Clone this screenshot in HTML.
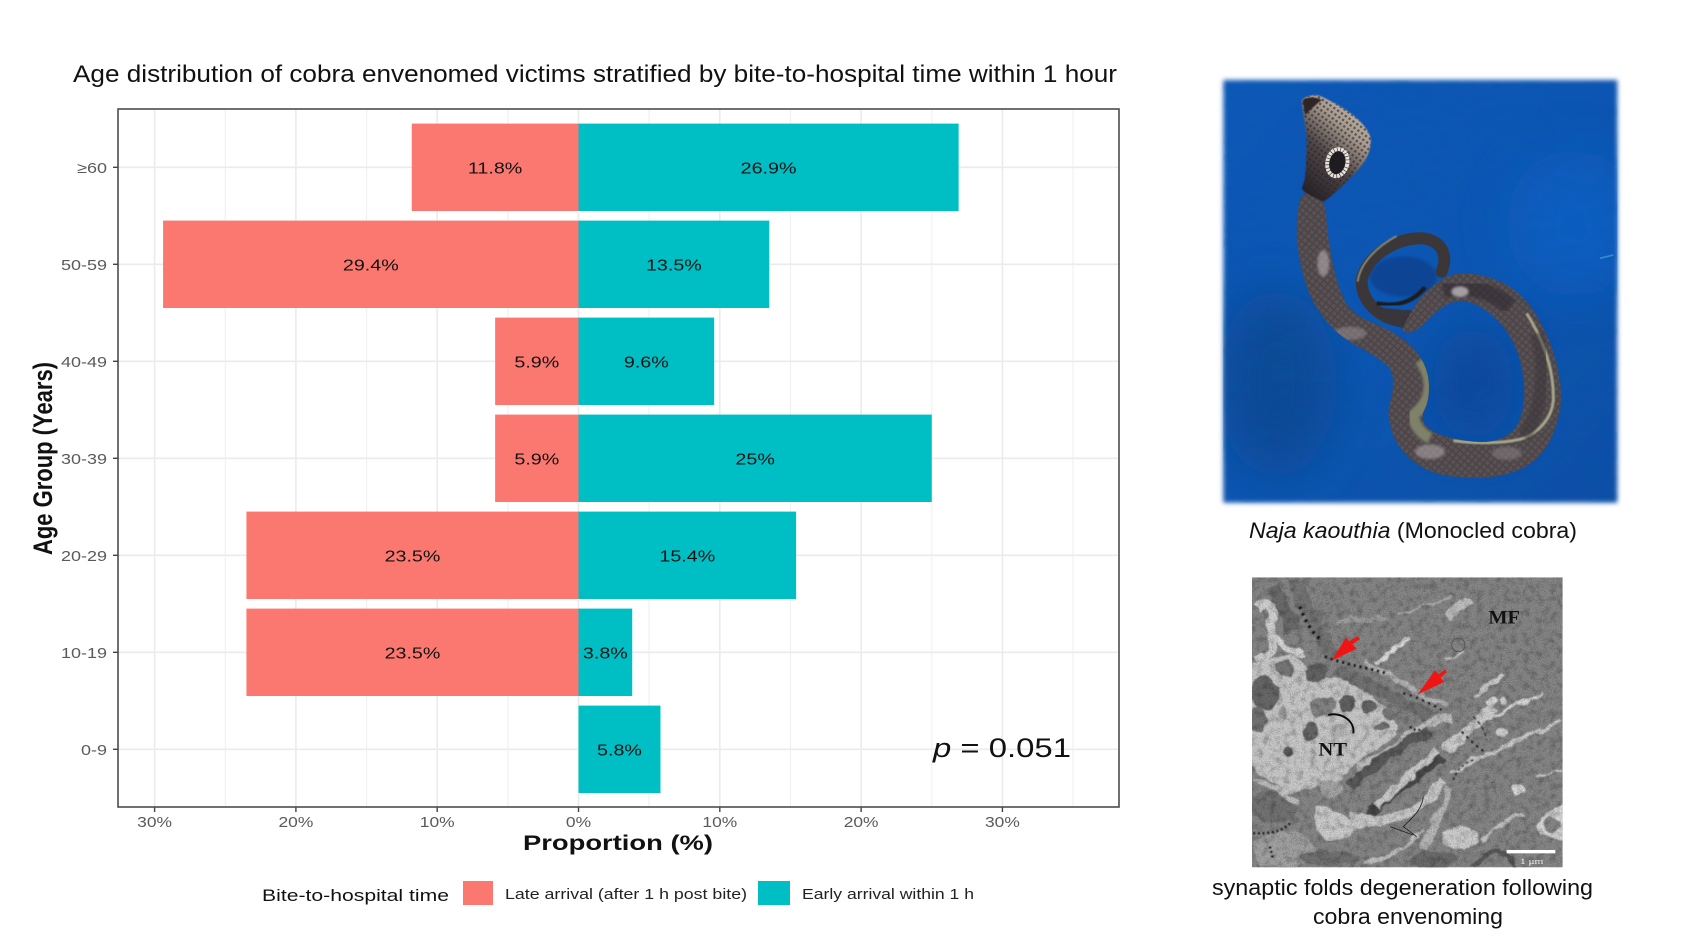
<!DOCTYPE html>
<html lang="en">
<head>
<meta charset="utf-8">
<title>Age distribution of cobra envenomed victims</title>
<style>
html,body{margin:0;padding:0;background:#fff;}
svg{display:block;font-family:"Liberation Sans",sans-serif;}
</style>
</head>
<body>
<svg id="fig" xmlns="http://www.w3.org/2000/svg" width="1701" height="945" viewBox="0 0 1701 945">
<defs>
  <filter id="edgeBlur" x="-5%" y="-5%" width="110%" height="110%"><feGaussianBlur stdDeviation="7"/></filter>
  <filter id="soft1" x="-5%" y="-5%" width="110%" height="110%"><feGaussianBlur stdDeviation="1.6"/></filter>
  <filter id="soft" x="-20%" y="-20%" width="140%" height="140%"><feGaussianBlur stdDeviation="4"/></filter>
  <filter id="bigSoft" x="-60%" y="-60%" width="220%" height="220%"><feGaussianBlur stdDeviation="70"/></filter>
  <filter id="warp" x="-5%" y="-5%" width="110%" height="110%">
    <feTurbulence type="fractalNoise" baseFrequency="0.022" numOctaves="3" seed="3" result="n"/>
    <feDisplacementMap in="SourceGraphic" in2="n" scale="30" xChannelSelector="R" yChannelSelector="G"/>
    <feGaussianBlur stdDeviation="1.8"/>
  </filter>
  <filter id="grain" x="0" y="0" width="100%" height="100%">
    <feTurbulence type="fractalNoise" baseFrequency="0.3" numOctaves="2" seed="5"/>
    <feColorMatrix type="matrix" values="0 0 0 0 0  0 0 0 0 0  0 0 0 0 0  1.8 0 0 0 -0.62"/>
  </filter>
  <filter id="mottle" x="0" y="0" width="100%" height="100%">
    <feTurbulence type="fractalNoise" baseFrequency="0.05" numOctaves="3" seed="9"/>
    <feColorMatrix type="matrix" values="0 0 0 0 0  0 0 0 0 0  0 0 0 0 0  2.4 0 0 0 -1.05"/>
  </filter>
  <filter id="blueGrain" x="0" y="0" width="100%" height="100%">
    <feTurbulence type="fractalNoise" baseFrequency="0.012 0.03" numOctaves="3" seed="7"/>
    <feColorMatrix type="matrix" values="0 0 0 0 0  0 0 0 0 0.12  0 0 0 0 0.4  2 0 0 0 -0.9"/>
  </filter>
  <linearGradient id="blueBg" x1="0" y1="0" x2="1" y2="1">
    <stop offset="0" stop-color="#0b58b6"/>
    <stop offset="0.5" stop-color="#0a55b2"/>
    <stop offset="1" stop-color="#0b4fa6"/>
  </linearGradient>
  <linearGradient id="hoodFill" x1="0.15" y1="1" x2="0.75" y2="0">
    <stop offset="0" stop-color="#231f24"/>
    <stop offset="0.42" stop-color="#4f4648"/>
    <stop offset="0.72" stop-color="#a79a8e"/>
    <stop offset="1" stop-color="#c4b9ac"/>
  </linearGradient>
  <pattern id="scales" patternUnits="userSpaceOnUse" width="16" height="16" patternTransform="rotate(40)">
    <rect width="16" height="16" fill="#4a4346"/>
    <rect x="2" y="2" width="11" height="11" fill="#625a5c"/>
  </pattern>
  <pattern id="hoodScales" patternUnits="userSpaceOnUse" width="14" height="14" patternTransform="rotate(35)">
    <rect width="14" height="14" fill="#000" opacity="0"/>
    <rect x="3" y="3" width="7" height="7" fill="#2a2426"/>
  </pattern>
  <clipPath id="photoClip"><rect x="100" y="90" width="1182" height="1268"/></clipPath>
  <clipPath id="emClip"><rect x="186" y="82" width="932" height="870"/></clipPath>
  <clipPath id="bodyClip"><path id="bodyClipPath" d=""/></clipPath>
</defs>

<rect width="1701" height="945" fill="#fff"/>

<text x="73" y="82" font-size="24" fill="#111" textLength="1044" lengthAdjust="spacingAndGlyphs">Age distribution of cobra envenomed victims stratified by bite-to-hospital time within 1 hour</text>

<g id="chart"></g>

<text transform="translate(52,555) rotate(-90) scale(1,1.22)" font-size="22" font-weight="bold" fill="#111" textLength="193" lengthAdjust="spacingAndGlyphs">Age Group (Years)</text>
<text x="523" y="850" font-size="21" font-weight="bold" fill="#111" textLength="190" lengthAdjust="spacingAndGlyphs">Proportion (%)</text>
<text x="933" y="757" font-size="27" fill="#111" textLength="138" lengthAdjust="spacingAndGlyphs"><tspan font-style="italic">p</tspan> = 0.051</text>

<g>
  <text x="262" y="901" font-size="17" fill="#111" textLength="187" lengthAdjust="spacingAndGlyphs">Bite-to-hospital time</text>
  <rect x="463" y="881" width="30" height="24" fill="#FA786F"/>
  <text x="505" y="899" font-size="15" fill="#222" textLength="242" lengthAdjust="spacingAndGlyphs">Late arrival (after 1 h post bite)</text>
  <rect x="758" y="881" width="32" height="24" fill="#00BFC4"/>
  <text x="802" y="899" font-size="15" fill="#222" textLength="172" lengthAdjust="spacingAndGlyphs">Early arrival within 1 h</text>
</g>

<!-- cobra photo illustration -->
<g transform="translate(1190,50) scale(0.33333)">
  <rect x="100" y="90" width="1182" height="1268" fill="url(#blueBg)" filter="url(#edgeBlur)"/>
  <g clip-path="url(#photoClip)">
    <ellipse cx="260" cy="1000" rx="180" ry="280" fill="#0a478f" opacity=".8" filter="url(#bigSoft)"/>
    <ellipse cx="1150" cy="520" rx="200" ry="220" fill="#0b60c4" opacity=".8" filter="url(#bigSoft)"/>
    <ellipse cx="850" cy="1000" rx="120" ry="170" fill="#0a4596" opacity=".8" filter="url(#bigSoft)"/>
    <rect x="100" y="90" width="1182" height="1268" filter="url(#blueGrain)" opacity=".25"/>
    <path d="M1230,625 L1270,615" stroke="#4da0e0" stroke-width="5" opacity=".7"/>
    <ellipse cx="640" cy="680" rx="100" ry="60" fill="#0a4494" filter="url(#soft)"/>
    <!-- back loop -->
    <path id="loopPath" d="M650,815 C560,810 512,745 515,690 C530,620 610,570 680,565 C750,562 778,610 755,665" fill="none" stroke="#3b3739" stroke-width="36" stroke-linecap="round"/>
    <path d="M560,760 C620,772 670,755 705,712" fill="none" stroke="#1c1a1d" stroke-width="13" filter="url(#soft1)"/>
    <path d="M503,695 C510,640 560,590 620,558" fill="none" stroke="#858770" stroke-width="6" filter="url(#soft1)"/>
    <path d="M540,770 C590,815 640,850 680,830 L720,780 L640,780 Z" fill="#39343a" filter="url(#soft1)"/>
    <!-- body as filled outline -->
    <path id="bodyFill" d="" fill="#4f474a" filter="url(#soft1)"/>
    <g clip-path="url(#bodyClip)">
      <rect x="300" y="400" width="850" height="920" fill="url(#scales)" opacity=".55"/>
      <path d="M690,930 C730,985 730,1050 670,1095 C670,1120 690,1150 720,1165" fill="none" stroke="#7f8168" stroke-width="34" filter="url(#soft)"/>
      <path d="M1010,790 C1060,870 1092,960 1090,1050 C1085,1110 1040,1150 1000,1165 C950,1180 860,1182 790,1172" fill="none" stroke="#a3a488" stroke-width="9" filter="url(#soft1)"/>
      <path d="M1040,850 C1070,950 1060,1080 1000,1160" fill="none" stroke="#38343a" stroke-width="40" opacity=".5" filter="url(#soft)"/>
      <path d="M760,720 C830,700 900,720 960,770" fill="none" stroke="#2e2a30" stroke-width="50" opacity=".6" filter="url(#soft)"/>
      <ellipse cx="400" cy="640" rx="18" ry="40" fill="#c9c2c4" opacity=".5" filter="url(#soft)"/>
      <ellipse cx="810" cy="725" rx="26" ry="16" fill="#d2cccf" opacity=".7" filter="url(#soft)"/>
      <ellipse cx="720" cy="1205" rx="45" ry="22" fill="#b2acad" opacity=".55" filter="url(#soft)"/>
      <ellipse cx="480" cy="850" rx="50" ry="20" fill="#9b9496" opacity=".5" filter="url(#soft)"/>
      <ellipse cx="950" cy="1210" rx="45" ry="20" fill="#8b8587" opacity=".5" filter="url(#soft)"/>
    </g>
    <!-- hood -->
    <path d="M335,150 C350,135 380,130 400,142 C460,170 530,215 542,265 C545,310 520,345 490,375 C460,405 425,440 400,455 C370,440 345,430 335,415 C350,390 348,330 350,290 C352,250 338,190 335,150 Z" fill="url(#hoodFill)" filter="url(#soft1)"/>
    <path d="M335,150 C350,135 380,130 400,142 C460,170 530,215 542,265 C545,310 520,345 490,375 C460,405 425,440 400,455 C370,440 345,430 335,415 C350,390 348,330 350,290 C352,250 338,190 335,150 Z" fill="url(#hoodScales)" opacity=".6"/>
    <path d="M338,150 C355,140 375,140 395,150 C375,165 355,185 345,195 Z" fill="#2d2627" filter="url(#soft1)"/>
    <ellipse cx="442" cy="338" rx="30" ry="41" transform="rotate(12 442 338)" fill="#1f1c21" stroke="#e6e0d6" stroke-width="12" stroke-dasharray="8 2"/>
  </g>
</g>
<text x="1249" y="538" font-size="22" fill="#111" textLength="328" lengthAdjust="spacingAndGlyphs"><tspan font-style="italic">Naja kaouthia</tspan> (Monocled cobra)</text>

<!-- electron micrograph illustration -->
<g transform="translate(1190,550) scale(0.33333)">
  <g clip-path="url(#emClip)">
    <rect x="186" y="82" width="932" height="870" fill="#8b8b8b"/>
    <g filter="url(#warp)">
      <!-- pale terminal NT -->
      <path d="M175,345 C250,335 285,290 340,335 C395,395 440,380 475,400 C530,425 600,480 625,520 C625,560 560,600 500,640 C470,652 450,700 430,725 C380,680 340,745 280,725 C250,690 200,690 175,620 Z" fill="#cfcfcf"/>
      <path d="M205,175 C240,150 255,175 240,225 C260,285 250,310 200,335" fill="none" stroke="#d8d8d8" stroke-width="26"/>
      <path d="M255,255 C285,295 300,310 345,312" stroke="#e0e0e0" stroke-width="20" fill="none"/>
      <path d="M250,110 C265,150 290,190 310,240" stroke="#707070" stroke-width="44" fill="none"/>
      <path d="M320,90 C340,180 390,250 430,320" stroke="#7a7a7a" stroke-width="44" fill="none"/>
      <!-- dark organelles -->
      <ellipse cx="225" cy="430" rx="42" ry="50" fill="#6c6c6c"/>
      <ellipse cx="205" cy="510" rx="24" ry="36" fill="#777"/>
      <circle cx="285" cy="355" r="24" fill="#7c7c7c"/>
      <circle cx="380" cy="372" r="34" fill="#676767"/>
      <circle cx="470" cy="460" r="26" fill="#666"/>
      <ellipse cx="538" cy="470" rx="24" ry="19" fill="#6c6c6c"/>
      <ellipse cx="600" cy="495" rx="22" ry="13" fill="#7c7c7c"/>
      <ellipse cx="575" cy="530" rx="28" ry="13" fill="#777"/>
      <circle cx="295" cy="605" r="17" fill="#5f5f5f"/>
      <ellipse cx="280" cy="490" rx="15" ry="22" fill="#a4a4a4"/>
      <ellipse cx="395" cy="470" rx="38" ry="32" fill="#8a8a8a"/>
      <ellipse cx="360" cy="545" rx="28" ry="26" fill="#6c6c6c"/>
      <ellipse cx="450" cy="540" rx="24" ry="18" fill="#bbb"/>
      <!-- fold zone -->
      <path d="M440,360 C530,410 620,440 720,500" fill="none" stroke="#777" stroke-width="36"/>
      <path d="M520,335 C600,360 650,420 770,470" fill="none" stroke="#bcbcbc" stroke-width="16"/>
      <!-- clefts -->
      <path d="M500,650 C560,640 600,600 650,560 C700,520 740,500 790,505" fill="none" stroke="#c6c6c6" stroke-width="22"/>
      <path d="M480,710 C540,640 640,590 720,540" fill="none" stroke="#5e5e5e" stroke-width="30"/>
      <path d="M540,800 C580,730 680,680 760,620" fill="none" stroke="#4e4e4e" stroke-width="32"/>
      <path d="M560,770 C620,700 700,650 745,600" fill="none" stroke="#d2d2d2" stroke-width="24"/>
      <path d="M480,800 C600,830 680,800 760,690" fill="none" stroke="#d2d2d2" stroke-width="30"/>
      <path d="M780,665 C900,610 1000,570 1110,510" fill="none" stroke="#d2d2d2" stroke-width="12"/>
      <path d="M770,600 C830,540 870,520 910,470" fill="none" stroke="#d4d4d4" stroke-width="32"/>
      <path d="M890,510 C950,480 1010,450 1060,425" fill="none" stroke="#e0e0e0" stroke-width="11"/>
      <path d="M850,440 C880,420 910,395 940,375" fill="none" stroke="#d6d6d6" stroke-width="13"/>
      <path d="M560,335 C590,320 625,290 650,265" fill="none" stroke="#e6e6e6" stroke-width="13"/>
      <path d="M630,190 C680,170 720,170 780,140" fill="none" stroke="#b8b8b8" stroke-width="7"/>
      <path d="M775,195 C800,170 830,160 845,150" fill="none" stroke="#c8c8c8" stroke-width="24"/>
      <path d="M770,330 C790,320 810,310 825,300" fill="none" stroke="#c4c4c4" stroke-width="12"/>
      <path d="M380,770 C370,850 400,900 470,860 C520,825 590,830 640,790 C600,780 520,820 480,810 C440,780 410,760 380,770 Z" fill="#d4d4d4"/>
      <ellipse cx="810" cy="860" rx="55" ry="36" fill="#d4d4d4"/>
      <path d="M700,900 C740,820 760,760 780,710" fill="none" stroke="#bebebe" stroke-width="24"/>
      <path d="M520,945 C600,930 660,880 700,840" fill="none" stroke="#c8c8c8" stroke-width="12"/>
      <path d="M1040,830 C1060,790 1090,780 1125,760 L1125,870 C1080,870 1050,860 1040,830 Z" fill="#dedede"/>
      <ellipse cx="1085" cy="825" rx="20" ry="22" fill="#8c8c8c"/>
      <ellipse cx="985" cy="720" rx="20" ry="12" fill="#e4e4e4"/>
      <path d="M870,870 C930,820 960,810 1000,790" fill="none" stroke="#cccccc" stroke-width="11"/>
      <path d="M850,945 C900,880 950,900 980,950" fill="none" stroke="#5c5c5c" stroke-width="14"/>
      <ellipse cx="905" cy="455" rx="18" ry="14" fill="#e0e0e0"/>
      <ellipse cx="940" cy="450" rx="10" ry="14" fill="#d8d8d8"/>
      <ellipse cx="938" cy="545" rx="16" ry="14" fill="#d8d8d8"/>
      <path d="M1040,680 C1070,670 1090,665 1118,655" fill="none" stroke="#d0d0d0" stroke-width="6"/>
      <path d="M440,215 C500,200 560,215 590,200" fill="none" stroke="#a6a6a6" stroke-width="12"/>
      <!-- lower-left mottling -->
      <ellipse cx="250" cy="770" rx="70" ry="50" fill="#787878"/>
      <ellipse cx="280" cy="900" rx="90" ry="55" fill="#a8a8a8"/>
      <ellipse cx="420" cy="925" rx="90" ry="22" fill="#767676"/>
      <ellipse cx="730" cy="930" rx="70" ry="26" fill="#707070"/>
      <ellipse cx="420" cy="715" rx="40" ry="24" fill="#aaaaaa"/>
      <path d="M190,690 C230,700 280,730 330,760" fill="none" stroke="#c4c4c4" stroke-width="14"/>
    </g>
    <!-- texture -->
    <rect x="186" y="82" width="932" height="870" filter="url(#mottle)" opacity=".22"/>
    <rect x="186" y="82" width="932" height="870" filter="url(#grain)" opacity=".25"/>
    <!-- junctional folds specks -->
    <g filter="url(#soft1)">
      <path d="M330,170 C345,210 365,250 395,270" fill="none" stroke="#111" stroke-width="10" stroke-dasharray="7 14"/>
      <path d="M405,320 C470,345 520,350 590,370" fill="none" stroke="#111" stroke-width="8" stroke-dasharray="6 12"/>
      <path d="M640,430 C680,440 720,460 755,480" fill="none" stroke="#111" stroke-width="6" stroke-dasharray="6 14"/>
      <path d="M660,530 C670,540 680,540 690,540" fill="none" stroke="#111" stroke-width="7" stroke-dasharray="5 9"/>
      <path d="M815,545 C840,570 860,590 890,610" fill="none" stroke="#111" stroke-width="5" stroke-dasharray="8 12"/>
      <path d="M850,500 C870,520 885,540 890,570" fill="none" stroke="#222" stroke-width="4" stroke-dasharray="10 10"/>
      <path d="M790,690 C800,660 820,640 850,630" fill="none" stroke="#222" stroke-width="4" stroke-dasharray="8 8"/>
      <path d="M190,850 C230,850 270,850 300,820 M240,890 L250,930" fill="none" stroke="#111" stroke-width="7" stroke-dasharray="5 9"/>
    </g>
    <path d="M415,495 C450,485 495,510 490,550" fill="none" stroke="#0c0c0c" stroke-width="6"/>
    <path d="M700,740 C695,780 670,800 640,830 L680,860 M600,830 L670,855" fill="none" stroke="#222" stroke-width="2.5"/>
    <circle cx="805" cy="285" r="20" fill="none" stroke="#555" stroke-width="3"/>
    <!-- arrows -->
    <path d="M425,332 L468,263 L478,274 L503,258 L510,267 L487,283 L500,296 Z" fill="#f01414"/>
    <path d="M683,433 L735,361 L745,373 L765,358 L771,366 L752,383 L762,396 Z" fill="#f01414"/>
    <text x="895" y="220" font-family="'Liberation Serif',serif" font-weight="bold" font-size="56" fill="#111" textLength="95" lengthAdjust="spacingAndGlyphs">MF</text>
    <text x="385" y="617" font-family="'Liberation Serif',serif" font-weight="bold" font-size="56" fill="#111" textLength="86" lengthAdjust="spacingAndGlyphs">NT</text>
    <rect x="950" y="900" width="146" height="10" fill="#fff"/>
    <text x="990" y="942" font-family="'Liberation Serif',serif" font-size="24" fill="#eee" textLength="70" lengthAdjust="spacingAndGlyphs">1 μm</text>
  </g>
</g>
<text x="1212" y="895" font-size="22" fill="#111" textLength="381" lengthAdjust="spacingAndGlyphs">synaptic folds degeneration following</text>
<text x="1313" y="924" font-size="22" fill="#111" textLength="190" lengthAdjust="spacingAndGlyphs">cobra envenoming</text>
</svg>

<script>
const categories = ["0-9", "10-19", "20-29", "30-39", "40-49", "50-59", "≥60"];
const lateValues = [0, 23.5, 23.5, 5.9, 5.9, 29.4, 11.8];
const earlyValues = [5.8, 3.8, 15.4, 25, 9.6, 13.5, 26.9];
const xTicks = [-30, -20, -10, 0, 10, 20, 30];
const xMinorTicks = [-25, -15, -5, 5, 15, 25, 35];

const NS = "http://www.w3.org/2000/svg";
const chart = document.getElementById("chart");
const panel = {left: 118, right: 1119, top: 109, bottom: 807};
const xDomain = [-32.59, 38.25];
const firstCenterY = 749.3, bandStep = 97, barHeight = 87.4;

function xScale(v) {
  return panel.left + (v - xDomain[0]) / (xDomain[1] - xDomain[0]) * (panel.right - panel.left);
}
function yScale(i) {
  return firstCenterY - i * bandStep;
}
function mk(tag, attrs, parent) {
  const e = document.createElementNS(NS, tag);
  for (const k in attrs) e.setAttribute(k, attrs[k]);
  (parent || chart).appendChild(e);
  return e;
}
function stretch(t, f) {
  const w = t.getComputedTextLength();
  t.setAttribute("textLength", (w * f).toFixed(1));
  t.setAttribute("lengthAdjust", "spacingAndGlyphs");
}

const panelBg = mk("rect", {x: panel.left, y: panel.top, width: panel.right - panel.left, height: panel.bottom - panel.top, fill: "#fff"});



xMinorTicks.forEach(function (v) {
  const g = mk("line", {x1: xScale(v), x2: xScale(v), y1: panel.top, y2: panel.bottom, stroke: "#f1f1f1", "stroke-width": 1.2});
  
  
});
xTicks.forEach(function (v) {
  const g = mk("line", {x1: xScale(v), x2: xScale(v), y1: panel.top, y2: panel.bottom, stroke: "#ebebeb", "stroke-width": 1.6});
  
  
});
categories.forEach(function (c, i) {
  const g = mk("line", {x1: panel.left, x2: panel.right, y1: yScale(i), y2: yScale(i), stroke: "#ebebeb", "stroke-width": 1.6});
  
  
});

categories.forEach(function (c, i) {
  const y = yScale(i);
  const x0 = xScale(0);
  if (lateValues[i] > 0) {
    const xl = xScale(-lateValues[i]);
    const bar = mk("rect", {x: xl, y: y - barHeight / 2, width: x0 - xl, height: barHeight, fill: "#FA786F"});
    
    
  }
  if (earlyValues[i] > 0) {
    const xr = xScale(earlyValues[i]);
    const bar = mk("rect", {x: x0, y: y - barHeight / 2, width: xr - x0, height: barHeight, fill: "#00BFC4"});
    
    
  }
});

categories.forEach(function (c, i) {
  const y = yScale(i) + 6;
  if (lateValues[i] > 0) {
    const t = mk("text", {x: xScale(-lateValues[i] / 2), y: y, "text-anchor": "middle", "font-size": 15.5, fill: "#111"});
    t.textContent = lateValues[i] + "%";
    
    
    stretch(t, 1.27);
  }
  if (earlyValues[i] > 0) {
    const t = mk("text", {x: xScale(earlyValues[i] / 2), y: y, "text-anchor": "middle", "font-size": 15.5, fill: "#111"});
    t.textContent = earlyValues[i] + "%";
    
    
    stretch(t, 1.27);
  }
});

const border = mk("rect", {x: panel.left, y: panel.top, width: panel.right - panel.left, height: panel.bottom - panel.top, fill: "none", stroke: "#4d4d4d", "stroke-width": 1.6});



xTicks.forEach(function (v) {
  const tick = mk("line", {x1: xScale(v), x2: xScale(v), y1: panel.bottom, y2: panel.bottom + 5, stroke: "#444", "stroke-width": 1.4});
  
  
  const t = mk("text", {x: xScale(v), y: 827, "text-anchor": "middle", "font-size": 15, fill: "#5a5a5a"});
  t.textContent = Math.abs(v) + "%";
  
  
  stretch(t, 1.16);
});
categories.forEach(function (c, i) {
  const tick = mk("line", {x1: panel.left - 5, x2: panel.left, y1: yScale(i), y2: yScale(i), stroke: "#444", "stroke-width": 1.4});
  
  
  const t = mk("text", {x: 107, y: yScale(i) + 5.5, "text-anchor": "end", "font-size": 15, fill: "#5a5a5a"});
  t.textContent = c;
  
  
  stretch(t, 1.2);
});

/* snake body outline, smoothed into one closed path (illustration only, not chart data) */
const snakeOutline = [[405,440],[412,560],[440,700],[480,790],[600,840],[670,890],[715,960],[718,1050],[690,1105],[720,1145],[800,1170],[900,1180],[970,1150],[1000,1090],[1005,1000],[985,900],[930,810],[850,755],[790,750],[730,790],[680,845],[630,850],[660,790],[700,730],[780,670],[860,670],[950,700],[1020,760],[1085,880],[1115,1010],[1110,1100],[1060,1220],[950,1280],[800,1285],[700,1260],[620,1190],[590,1090],[610,1030],[610,960],[560,920],[450,860],[380,780],[345,700],[322,600],[320,500],[335,420]];
function smoothClosed(pts) {
  const n = pts.length;
  const mid = function (a, b) { return [(a[0] + b[0]) / 2, (a[1] + b[1]) / 2]; };
  const s = mid(pts[n - 1], pts[0]);
  let d = "M" + s[0] + "," + s[1];
  for (let i = 0; i < n; i++) {
    const m = mid(pts[i], pts[(i + 1) % n]);
    d += " Q" + pts[i][0] + "," + pts[i][1] + " " + m[0] + "," + m[1];
  }
  return d + " Z";
}
const bodyD = smoothClosed(snakeOutline);
document.getElementById("bodyFill").setAttribute("d", bodyD);
document.getElementById("bodyClipPath").setAttribute("d", bodyD);
</script>
</body>
</html>
